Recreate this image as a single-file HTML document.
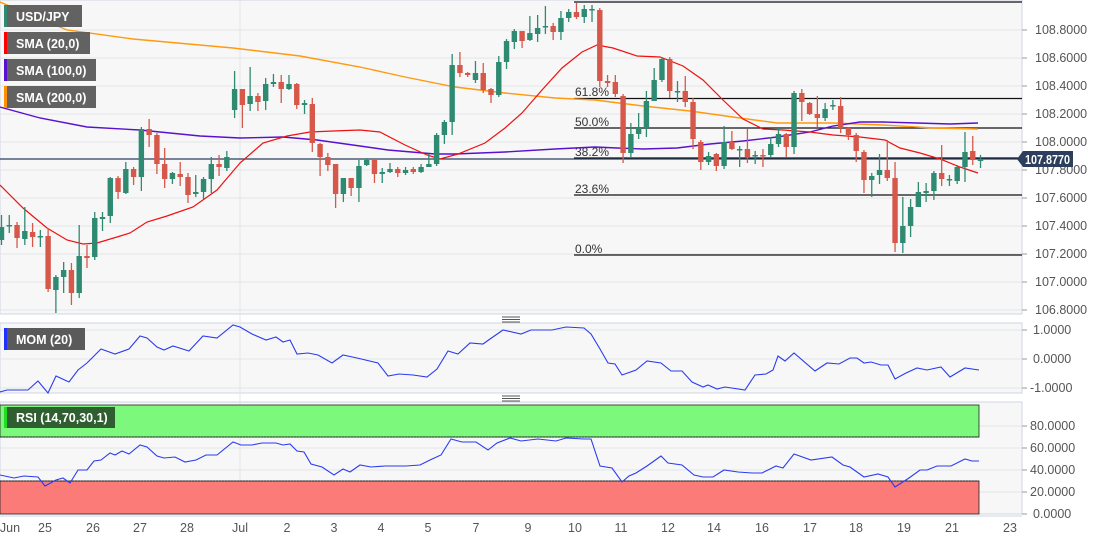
<!DOCTYPE html>
<html><head><meta charset="utf-8"><style>
html,body{margin:0;padding:0;background:#fff;}
svg{display:block;font-family:"Liberation Sans",Arial,sans-serif;}
.ax{font-size:12.5px;fill:#555;}
.lg{font-size:12.5px;font-weight:bold;fill:#fff;}
.fb{font-size:12px;fill:#333;}
</style></head><body>
<svg id="s" width="1095" height="541" viewBox="0 0 1095 541" xmlns="http://www.w3.org/2000/svg">
<rect x="0" y="0" width="1095" height="541" fill="#fff"/>
<rect x="0" y="0" width="1022" height="314" fill="#f7f7f7" stroke="#cfd5e0"/>
<rect x="0" y="323" width="1022" height="70" fill="#f7f7f7" stroke="#cfd5e0"/>
<rect x="0" y="402" width="1022" height="112" fill="#f7f7f7" stroke="#cfd5e0"/>
<g id="grid" stroke="#e2e4ea" stroke-width="1"></g>
<line x1="240" y1="0" x2="240" y2="514" stroke="#e2e4ea"/>
<rect x="0" y="405" width="979" height="32" fill="#7cf97c" stroke="#222" stroke-width="0.8"/>
<rect x="0" y="481" width="979" height="33" fill="#fb7b78" stroke="#222" stroke-width="0.8"/>
<line x1="0" y1="437" x2="979" y2="437" stroke="#222" stroke-dasharray="2,1"/>
<line x1="0" y1="481" x2="979" y2="481" stroke="#222" stroke-dasharray="2,1"/>
<g stroke="#111" stroke-width="1.3">
<line x1="574" y1="2" x2="1022" y2="2"/>
<line x1="574" y1="98.5" x2="1022" y2="98.5"/>
<line x1="574" y1="128" x2="1022" y2="128"/>
<line x1="574" y1="158" x2="1022" y2="158"/>
<line x1="574" y1="195" x2="1022" y2="195"/>
<line x1="574" y1="255" x2="1022" y2="255"/>
</g>
<g class="fb">
<text x="575" y="96">61.8%</text>
<text x="575" y="126">50.0%</text>
<text x="575" y="156">38.2%</text>
<text x="575" y="193">23.6%</text>
<text x="575" y="253">0.0%</text>
</g>
<line x1="0" y1="159" x2="1022" y2="159" stroke="#2b3e5c" stroke-width="1.3"/>
<g id="lines" fill="none"></g>
<g id="candles"></g>
<g class="ax">
<text x="1035" y="34">108.8000</text>
<text x="1035" y="62">108.6000</text>
<text x="1035" y="90">108.4000</text>
<text x="1035" y="118">108.2000</text>
<text x="1035" y="146">108.0000</text>
<text x="1035" y="174">107.8000</text>
<text x="1035" y="202">107.6000</text>
<text x="1035" y="230">107.4000</text>
<text x="1035" y="258">107.2000</text>
<text x="1035" y="286">107.0000</text>
<text x="1035" y="314">106.8000</text>
<text x="1033" y="334">1.0000</text>
<text x="1033" y="363">0.0000</text>
<text x="1030" y="392">-1.0000</text>
<text x="1030" y="430">80.0000</text>
<text x="1030" y="452">60.0000</text>
<text x="1030" y="474">40.0000</text>
<text x="1030" y="496">20.0000</text>
<text x="1033" y="518">0.0000</text>
</g>
<g stroke="#999">
<line x1="1022" y1="30" x2="1027" y2="30"/><line x1="1022" y1="58" x2="1027" y2="58"/><line x1="1022" y1="86" x2="1027" y2="86"/><line x1="1022" y1="114" x2="1027" y2="114"/><line x1="1022" y1="142" x2="1027" y2="142"/><line x1="1022" y1="170" x2="1027" y2="170"/><line x1="1022" y1="198" x2="1027" y2="198"/><line x1="1022" y1="226" x2="1027" y2="226"/><line x1="1022" y1="254" x2="1027" y2="254"/><line x1="1022" y1="282" x2="1027" y2="282"/><line x1="1022" y1="310" x2="1027" y2="310"/>
<line x1="1022" y1="330" x2="1027" y2="330"/><line x1="1022" y1="359" x2="1027" y2="359"/><line x1="1022" y1="388" x2="1027" y2="388"/>
<line x1="1022" y1="426" x2="1027" y2="426"/><line x1="1022" y1="448" x2="1027" y2="448"/><line x1="1022" y1="470" x2="1027" y2="470"/><line x1="1022" y1="492" x2="1027" y2="492"/><line x1="1022" y1="514" x2="1027" y2="514"/>
</g>
<polygon points="1017,159 1023,151 1073,151 1073,167 1023,167" fill="#2b3e5c"/>
<text x="1025" y="164" textLength="45" lengthAdjust="spacingAndGlyphs" style="font-size:12.5px;font-weight:bold;fill:#fff">107.8770</text>
<line x1="0" y1="516" x2="1022" y2="516" stroke="#cfd5e0"/>
<g class="ax" text-anchor="middle">
<text x="10" y="532">Jun</text><text x="45" y="532">25</text><text x="93" y="532">26</text><text x="140" y="532">27</text><text x="187" y="532">28</text><text x="240" y="532">Jul</text><text x="287" y="532">2</text><text x="334" y="532">3</text><text x="381" y="532">4</text><text x="428" y="532">5</text><text x="476" y="532">7</text><text x="528" y="532">9</text><text x="575" y="532">10</text><text x="621" y="532">11</text><text x="668" y="532">12</text><text x="714" y="532">14</text><text x="762" y="532">16</text><text x="810" y="532">17</text><text x="856" y="532">18</text><text x="904" y="532">19</text><text x="952" y="532">21</text><text x="1010" y="532">23</text>
</g>
<g stroke="#555"><line x1="502" y1="317" x2="520" y2="317"/><line x1="502" y1="319.5" x2="520" y2="319.5"/><line x1="502" y1="322" x2="520" y2="322"/>
<line x1="502" y1="396" x2="520" y2="396"/><line x1="502" y1="398.5" x2="520" y2="398.5"/><line x1="502" y1="401" x2="520" y2="401"/></g>
<rect x="4" y="5" width="78" height="22" fill="#5a5a5a" opacity="0.95"/><rect x="4" y="5" width="3" height="22" fill="#2f8a72"/><text class="lg" x="16" y="21">USD/JPY</text>
<rect x="4" y="32" width="86" height="22" fill="#5a5a5a" opacity="0.95"/><rect x="4" y="32" width="3" height="22" fill="#f00"/><text class="lg" x="16" y="48">SMA (20,0)</text>
<rect x="4" y="59" width="92" height="22" fill="#5a5a5a" opacity="0.95"/><rect x="4" y="59" width="3" height="22" fill="#5a10d0"/><text class="lg" x="16" y="75">SMA (100,0)</text>
<rect x="4" y="86" width="92" height="22" fill="#5a5a5a" opacity="0.95"/><rect x="4" y="86" width="3" height="22" fill="#ff9000"/><text class="lg" x="16" y="102">SMA (200,0)</text>
<rect x="4" y="328" width="81" height="22" fill="#5a5a5a"/><rect x="4" y="328" width="3" height="22" fill="#2030ff"/><text class="lg" x="16" y="344">MOM (20)</text>
<rect x="4" y="407" width="111" height="21" fill="#2f5e31"/><rect x="4" y="407" width="3" height="21" fill="#22dd22"/><text class="lg" x="16" y="422">RSI (14,70,30,1)</text>
</svg>
<script>
var NS="http://www.w3.org/2000/svg";
function el(p,t,a){var e=document.createElementNS(NS,t);for(var k in a)e.setAttribute(k,a[k]);p.appendChild(e);return e;}
var g=document.getElementById("grid");
[30,58,86,114,142,170,198,226,254,282,310,330,359,388,426,448,470,492].forEach(function(y){el(g,"line",{x1:0,y1:y,x2:1022,y2:y});});
var C=[["g",227,240,215,245],["d",225,226,215,233],["r",225,238,222,248],["g",231,239,207,245],["r",232,237,223,247],["d",236,237,230,247],["r",236,289,228,292],["g",277,290,275,313],["g",270,277,262,293],["r",270,293,263,305],["g",256,293,225,298],["r",256,258,245,268],["g",218,257,212,260],["g",217,219,212,231],["g",178,216,177,223],["r",178,192,176,199],["g",169,193,162,194],["r",169,177,167,185],["g",129,177,127,191],["r",129,135,119,147],["r",135,164,133,174],["r",164,179,148,188],["g",173,179,172,184],["r",174,177,162,186],["r",177,195,173,203],["g",192,194,175,197],["g",179,192,177,199],["g",164,179,157,193],["r",164,167,155,176],["g",157,168,151,171],["g",89,110,71,118],["r",89,105,89,128],["g",96,104,67,111],["r",96,102,93,111],["g",84,101,78,110],["g",82,84,74,87],["r",82,89,75,103],["g",84,89,75,90],["r",84,105,83,109],["g",103,105,100,114],["r",104,143,98,152],["r",144,157,143,176],["r",157,165,153,171],["r",164,194,164,208],["g",178,194,178,202],["r",178,188,178,196],["g",166,188,160,202],["g",160,165,158,166],["r",160,174,159,183],["g",172,174,168,183],["g",169,172,163,173],["r",169,173,167,177],["g",170,173,167,175],["r",169,172,167,174],["g",167,172,164,173],["g",164,167,154,167],["g",135,164,133,166],["g",122,135,120,144],["g",65,122,54,135],["r",65,73,52,77],["r",73,75,72,77],["g",73,80,61,83],["r",73,90,63,93],["r",89,95,88,103],["g",62,95,56,97],["g",41,62,39,69],["g",31,42,29,49],["r",31,41,31,48],["g",33,40,16,41],["g",28,34,15,42],["d",26,27,6,34],["r",26,32,23,40],["g",18,32,11,40],["g",12,18,9,22],["r",12,17,3,19],["g",9,17,5,23],["d",9,10,5,22],["r",10,81,8,87],["r",81,83,75,87],["r",82,94,75,97],["r",96,153,94,163],["g",134,153,123,157],["g",128,134,113,139],["g",101,128,91,137],["g",80,101,68,101],["g",59,80,57,82],["r",59,91,57,98],["d",91,92,81,102],["r",91,102,76,107],["r",102,139,98,149],["r",142,162,140,170],["g",156,162,152,165],["r",154,166,153,171],["g",142,166,126,169],["r",142,149,131,150],["d",149,150,146,167],["r",149,157,129,163],["d",155,156,151,164],["r",155,156,149,167],["g",144,155,137,157],["g",134,144,128,147],["r",134,147,133,157],["g",93,147,91,154],["r",93,102,89,121],["r",103,114,102,115],["r",114,118,96,127],["g",109,118,103,121],["d",105,106,100,110],["r",106,128,97,133],["r",128,135,127,140],["r",135,151,133,162],["r",152,180,150,193],["g",176,180,173,197],["g",170,175,154,184],["r",170,178,140,181],["r",178,243,162,252],["g",226,243,197,253],["g",207,226,199,237],["g",192,207,182,207],["d",191,193,183,202],["g",173,191,171,200],["r",173,179,145,186],["d",179,180,175,186],["g",167,181,165,184],["g",152,167,132,182],["r",151,160,136,165],["d",159,161,155,168]];
var cg=document.getElementById("candles");
C.forEach(function(c,i){var x=i*7.77+1.5;var col=c[0]=="r"?"#d6584a":"#2f8a72";
el(cg,"line",{x1:x,y1:c[3],x2:x,y2:c[4],stroke:col,"stroke-width":1.3});
el(cg,"rect",{x:x-2.7,y:c[1],width:5.4,height:Math.max(1.5,c[2]-c[1]),fill:col});});
var L=document.getElementById("lines");
function pl(pts,col,w){el(L,"polyline",{points:pts,stroke:col,"stroke-width":w,fill:"none"});}
pl("0,2 67,30 133,39 233,48 300,56 360,67 405,77 455,87 505,93 555,98 595,100 643,106 690,111 740,118 777,123 833,123 883,125 933,128 978,129","#ff9a10",1.4);
pl("0,107 40,118 87,127 140,130 200,136 240,138 283,137 317,140 360,146 388,150 435,154 455,154 505,152 555,149 595,147 617,148 643,149 677,148 710,144 743,141 777,137 810,132 833,126 860,122 883,122 917,123 950,124 978,123","#5a10d0",1.4);
pl("0,185 23,208 47,228 67,240 83,244 97,243 117,237 130,233 147,222 167,216 193,207 217,190 240,163 263,143 287,136 310,132 333,131 360,130 380,132 405,145 427,155 440,159 458,154 485,143 505,128 522,113 542,90 562,68 582,52 597,45 613,48 637,56 660,57 683,66 703,80 723,100 743,119 763,129 783,130 810,132 833,135 860,137 885,140 900,148 920,153 940,159 960,167 978,173","#f01010",1.2);
pl("0,392 7,390 28,390 38,381 48,393 56,376 69,382 78,370 87,363 101,349 115,354 129,349 140,336 147,338 157,347 164,350 173,346 189,351 203,336 217,338 233,325 240,327 252,334 266,340 276,337 283,342 290,340 297,354 308,353 318,355 332,363 343,355 357,358 378,363 388,376 399,374 413,375 427,377 437,369 448,351 458,354 470,343 483,344 490,339 503,330 521,334 531,330 552,330 566,327 584,328 591,334 600,349 608,363 615,364 622,375 636,370 647,361 661,363 671,371 682,371 692,382 703,387 708,385 717,389 725,387 745,390 755,375 766,374 773,370 778,356 785,361 794,353 815,371 827,363 839,364 850,358 857,358 864,363 871,362 881,365 888,365 895,379 906,373 917,368 927,370 941,367 950,377 965,368 979,370","#2a3cf0",1.1);
pl("0,475 14,478 24,476 38,477 45,486 56,480 63,478 70,483 78,470 87,470 94,461 101,460 110,453 115,455 122,451 129,454 140,445 147,447 157,456 164,458 175,457 185,462 196,460 206,455 217,455 233,442 241,445 252,445 262,443 276,443 283,445 290,444 297,451 304,452 311,464 322,467 334,475 343,469 350,472 360,465 371,467 385,466 406,466 420,465 430,460 441,455 451,439 462,442 476,442 488,450 497,443 510,438 521,441 538,439 556,441 566,438 584,439 591,439 600,466 612,468 622,482 629,476 636,473 647,466 661,456 668,463 682,465 694,475 703,477 713,477 724,470 738,472 752,473 762,473 776,466 783,468 794,454 811,460 832,457 843,465 850,467 864,477 878,474 888,477 895,487 909,478 920,470 927,470 937,466 951,466 965,459 972,461 979,461","#2a3cf0",1.1);
</script>
</body></html>
